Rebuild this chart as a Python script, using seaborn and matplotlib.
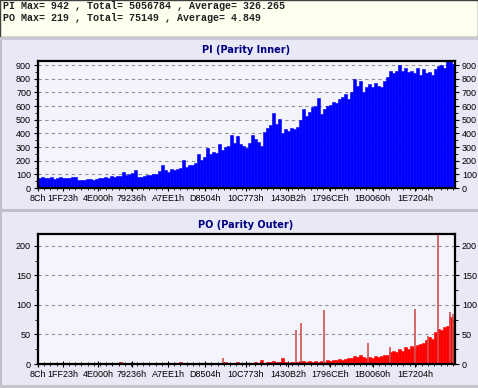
import numpy as np
import pandas as pd
import matplotlib
matplotlib.use('Agg')
import matplotlib.pyplot as plt
import seaborn as sns
from matplotlib.patches import Rectangle
from matplotlib.ticker import FixedLocator, MultipleLocator

# summary lines shown above the charts
header_lines = [
    'PI Max= 942 , Total= 5056784 , Average= 326.265',
    'PO Max= 219 , Total= 75149 , Average= 4.849',
]

# x tick labels (hex addresses)
x_labels = ['8Ch', '1FF23h', '4E000h', '79236h', 'A7EE1h', 'D8504h',
            '10C773h', '1430B2h', '1796CEh', '1B0060h', '1E7204h']
x_max = 2206000

# PI (Parity Inner) per address bucket
pi_values = [72, 78, 70, 75, 80, 68, 74, 79, 71, 76, 73, 80, 78, 60,
             62, 60, 63, 65, 62, 66, 70, 72, 80, 75, 85, 78, 90, 88,
             115, 98, 105, 110, 130, 78, 82, 88, 92, 98, 100, 105,
             125, 168, 130, 120, 140, 132, 138, 150, 205, 155, 170, 165,
             180, 250, 205, 230, 295, 250, 265, 255, 320, 280, 300, 310,
             390, 330, 380, 320, 310, 290, 330, 390, 360, 340, 310, 410,
             440, 460, 550, 470, 505, 400, 430, 420, 440, 430, 450, 500,
             580, 530, 560, 590, 600, 660, 540, 580, 600, 610, 630, 620,
             650, 670, 690, 650, 700, 800, 750, 780, 700, 740, 760, 740,
             770, 750, 740, 780, 810, 860, 840, 860, 900, 860, 880, 850,
             860, 840, 880, 830, 870, 840, 850, 830, 870, 890, 900, 880,
             930, 942, 910]

# PO (Parity Outer) per address bucket
po_values = [1, 0, 1, 1, 0, 1, 1, 0, 1, 1, 0, 1, 1, 1,
             0, 1, 1, 0, 1, 1, 1, 0, 1, 1, 1, 1, 1, 4,
             1, 1, 1, 1, 2, 1, 1, 1, 2, 1, 1, 1,
             1, 2, 1, 1, 1, 2, 1, 4, 1, 2, 1, 1,
             2, 1, 2, 1, 2, 2, 1, 2, 2, 1, 3, 2,
             2, 2, 3, 2, 2, 1, 2, 2, 3, 2, 7, 2,
             3, 4, 5, 3, 4, 10, 3, 2, 4, 3, 4, 5,
             5, 4, 5, 4, 5, 4, 5, 4, 6, 5, 7, 6,
             8, 7, 9, 11, 10, 14, 12, 15, 12, 11, 12, 11,
             13, 12, 14, 15, 16, 20, 22, 20, 25, 22, 28, 26,
             30, 28, 32, 34, 36, 40, 45, 42, 55, 60, 58, 62,
             65, 80, 75]

# isolated PO spikes (address, count)
po_spike_addr = [978650, 1364820, 1391270, 1512940, 1745700, 1862080,
                 1994330, 2063100, 2116000, 2179480, 2195350]
po_spike_vals = [10, 57, 70, 91, 35, 28, 93, 48, 219, 88, 85]

W, H = 478, 388
fig = plt.figure(figsize=(W / 100, H / 100), dpi=100)
fig.patch.set_facecolor('#e8e8f6')

def px_rect(x, y, w, h, **kw):
    # rectangle in pixel coords measured from the top-left
    fig.patches.append(Rectangle((x / W, 1 - (y + h) / H), w / W, h / H,
                                 transform=fig.transFigure, **kw))

# header box, panel borders and separators
px_rect(0, 0, 2, H, facecolor='#c0c0c8', edgecolor='none')
px_rect(0, 0, W, 37, facecolor='#fffff0', edgecolor='#404040', lw=1)
px_rect(0, 37, W, 3, facecolor='#c8c8d4', edgecolor='none')
px_rect(0, 209, W, 3, facecolor='#c0c0c8', edgecolor='none')
px_rect(0, 385, W, 3, facecolor='#c4c4cc', edgecolor='none')

for k, line in enumerate(header_lines):
    fig.text(3 / W, 1 - (6 + 12 * k) / H, line, family='Liberation Mono',
             weight='bold', fontsize=7.2, va='center', ha='left', color='#202020')

n_bins = len(pi_values)
step = x_max / n_bins
df = pd.DataFrame({
    'addr': step * (np.arange(n_bins) + 0.5),
    'pi': pi_values,
    'po': po_values,
})
tick_pos = [int(s[:-1], 16) for s in x_labels]

def style_axes(ax, ymax, ystep):
    ax.set_facecolor('#f4f4fc')
    ax.set_xlim(0, x_max)
    ax.set_ylim(0, ymax)
    ax.set_xlabel('')
    ax.set_ylabel('')
    ax.xaxis.set_major_locator(FixedLocator(tick_pos))
    ax.set_xticklabels(x_labels)
    ax.xaxis.set_minor_locator(MultipleLocator(32768))
    ax.yaxis.set_major_locator(MultipleLocator(ystep))
    ax.yaxis.set_minor_locator(MultipleLocator(ystep / 2))
    ax.grid(axis='y', which='major', color='#909090', ls=(0, (3, 3)), lw=0.8)
    ax.set_axisbelow(True)
    ax.tick_params(axis='both', which='major', labelsize=6.5, length=3,
                   width=0.8, pad=2, colors='black')
    ax.tick_params(axis='y', which='both', right=True, labelright=True)
    ax.tick_params(axis='x', which='major', direction='inout', length=4)
    ax.tick_params(axis='x', which='minor', direction='inout', length=3, width=0.6)
    ax.tick_params(axis='y', which='minor', length=2, width=0.6)
    for lab in ax.get_xticklabels() + ax.get_yticklabels():
        lab.set_family('Liberation Sans')
    for t in ax.yaxis.get_major_ticks():
        t.label2.set_family('Liberation Sans')
    for sp in ax.spines.values():
        sp.set_color('black')
        sp.set_linewidth(1.6)

# PI panel
ax1 = fig.add_axes([38 / W, 1 - 188 / H, 417 / W, 127 / H])
sns.histplot(data=df, x='addr', weights='pi', bins=n_bins, binrange=(0, x_max),
             element='bars', color='#0000ff', alpha=1, edgecolor='#0000ff',
             linewidth=0.4, ax=ax1)
style_axes(ax1, 930, 100)
fig.text(246 / W, 1 - 50 / H, 'PI (Parity Inner)', ha='center', va='center',
         fontsize=7, weight='bold', color='#000080')

# PO panel
ax2 = fig.add_axes([38 / W, 1 - 364 / H, 417 / W, 130 / H])
sns.histplot(data=df, x='addr', weights='po', bins=n_bins, binrange=(0, x_max),
             element='bars', color='#ff0000', alpha=1, edgecolor='#ff0000',
             linewidth=0.4, ax=ax2)
ax2.vlines(po_spike_addr, 0, po_spike_vals, color='#d05050', lw=1.2)
style_axes(ax2, 220, 50)
fig.text(246 / W, 1 - 225 / H, 'PO (Parity Outer)', ha='center', va='center',
         fontsize=7, weight='bold', color='#000080')

fig.savefig('out.png', dpi=100, facecolor=fig.get_facecolor())
